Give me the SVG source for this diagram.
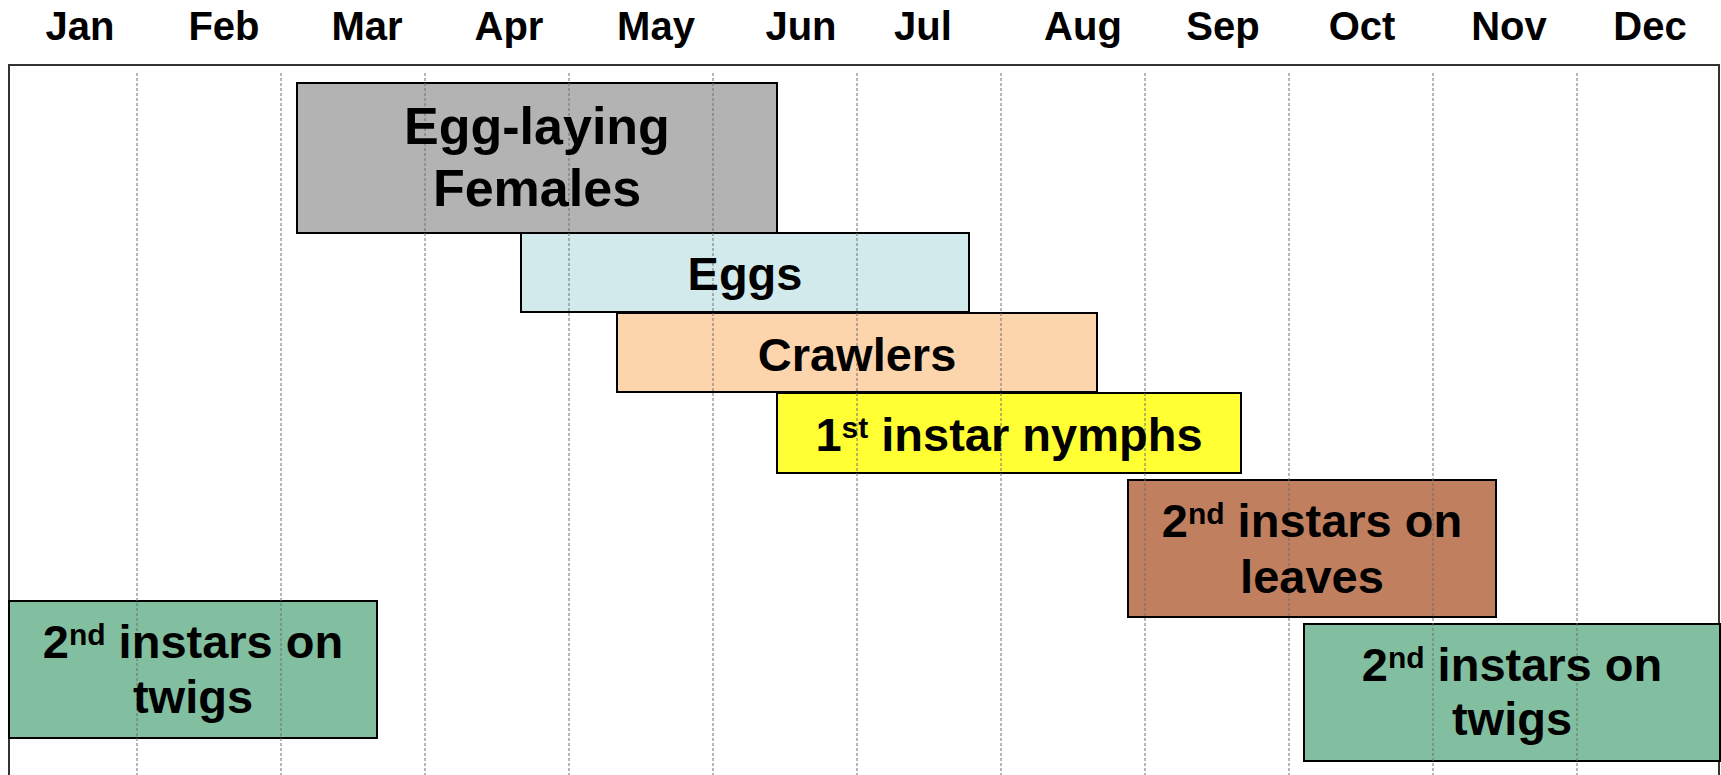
<svg xmlns="http://www.w3.org/2000/svg" width="1721" height="775" viewBox="0 0 1721 775">
<style>
.month{font-family:"Liberation Sans",Arial,sans-serif;font-weight:bold;font-size:40px;fill:#000;text-anchor:middle}
.lbl{font-family:"Liberation Sans",Arial,sans-serif;font-weight:bold;font-size:47px;fill:#000;text-anchor:middle}
.box{stroke:#000;stroke-width:2}
.grid{stroke:#6e6e6e;stroke-width:1;stroke-dasharray:3 2;fill:none}
.sup{font-size:30px}
</style>
<rect x="0" y="0" width="1721" height="775" fill="#fff"/>
<g id="months">
<text class="month" x="80" y="40">Jan</text>
<text class="month" x="224" y="40">Feb</text>
<text class="month" x="367" y="40">Mar</text>
<text class="month" x="509" y="40">Apr</text>
<text class="month" x="656" y="40">May</text>
<text class="month" x="801" y="40">Jun</text>
<text class="month" x="923" y="40">Jul</text>
<text class="month" x="1083" y="40">Aug</text>
<text class="month" x="1223" y="40">Sep</text>
<text class="month" x="1362" y="40">Oct</text>
<text class="month" x="1509" y="40">Nov</text>
<text class="month" x="1650" y="40">Dec</text>
</g>
<g id="frame">
<path d="M9,780 V65 H1719 V780" fill="none" stroke="#333" stroke-width="2"/>
</g>
<g id="bars">
<g id="egg-laying-females">
<rect class="box" x="297" y="83" width="480" height="150" fill="#b3b3b3"/>
</g>
<g id="eggs">
<rect class="box" x="521" y="233" width="448" height="79" fill="#d3eaec"/>
</g>
<g id="crawlers">
<rect class="box" x="617" y="313" width="480" height="79" fill="#fdd5ad"/>
</g>
<g id="first-instar-nymphs">
<rect class="box" x="777" y="393" width="464" height="80" fill="#ffff33"/>
</g>
<g id="second-instars-leaves">
<rect class="box" x="1128" y="480" width="368" height="137" fill="#c07f5f"/>
</g>
<g id="second-instars-twigs-left">
<rect class="box" x="9" y="601" width="368" height="137" fill="#82bfa0"/>
</g>
<g id="second-instars-twigs-right">
<rect class="box" x="1304" y="624" width="416" height="137" fill="#82bfa0"/>
</g>
</g>
<g id="grid">
<path class="grid" d="M137,73V775 M281,73V775 M425,73V775 M569,73V775 M713,73V775 M857,73V775 M1001,73V775 M1145,73V775 M1289,73V775 M1433,73V775 M1577,73V775"/>
</g>
<g id="labels">
<text class="lbl" x="537" y="144" style="font-size:52px">Egg-laying</text>
<text class="lbl" x="537" y="206" style="font-size:52px">Females</text>
<text class="lbl" x="745" y="290">Eggs</text>
<text class="lbl" x="857" y="371">Crawlers</text>
<text class="lbl" x="1009" y="451">1<tspan class="sup" dy="-13">st</tspan><tspan dy="13"> instar nymphs</tspan></text>
<text class="lbl" x="1312" y="537">2<tspan class="sup" dy="-13">nd</tspan><tspan dy="13"> instars on</tspan></text>
<text class="lbl" x="1312" y="593">leaves</text>
<text class="lbl" x="193" y="658">2<tspan class="sup" dy="-13">nd</tspan><tspan dy="13"> instars on</tspan></text>
<text class="lbl" x="193" y="713">twigs</text>
<text class="lbl" x="1512" y="681">2<tspan class="sup" dy="-13">nd</tspan><tspan dy="13"> instars on</tspan></text>
<text class="lbl" x="1512" y="735">twigs</text>
</g>
</svg>
